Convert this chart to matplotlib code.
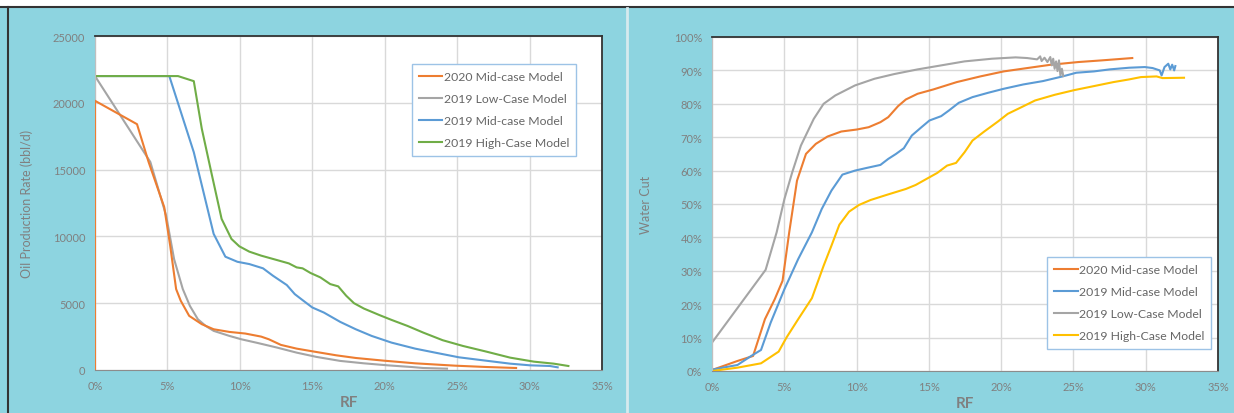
import numpy as np
import matplotlib
matplotlib.use("Agg")
import matplotlib.pyplot as plt
from matplotlib.lines import Line2D
from matplotlib.patches import Rectangle
from matplotlib.ticker import FuncFormatter

plt.rcParams['font.family'] = ['Lato', 'DejaVu Sans']

# ---- left panel: oil rate vs RF (RF in %) ----
rate_2020_mid_x = [0, 0, 2.9, 3.7, 4.78, 5.19, 5.6, 5.92, 6.5, 7.37, 8.19, 9.28, 10.37, 11.47, 12.0,
                   12.83, 13.92, 15.0, 16.65, 18.0, 19.93, 22.1, 24.84, 27.0, 29.07]
rate_2020_mid_y = [0, 20150, 18400, 15570, 12190, 9310, 6056, 5180, 4054, 3430, 3050, 2850, 2730, 2500,
                   2300, 1880, 1600, 1400, 1100, 900, 700, 500, 325, 225, 150]

rate_2019_low_x = [0, 3.82, 4.91, 5.46, 6.06, 6.55, 7.1, 7.64, 8.19, 9.28, 10.1, 11.2, 12.56, 13.92,
                   15.29, 16.93, 18.56, 20.2, 21.84, 22.66, 24.3]
rate_2019_low_y = [22000, 15570, 11560, 8300, 6060, 4800, 3800, 3300, 2930, 2550, 2300, 2030, 1680,
                   1300, 980, 680, 500, 350, 225, 150, 100]

rate_2019_mid_x = [0, 5.13, 6.82, 8.19, 9.0, 9.83, 10.65, 11.6, 12.28, 13.24, 13.79, 14.33, 15.0, 15.8,
                   16.93, 18.0, 19.1, 20.47, 22.1, 23.48, 25.12, 26.75, 28.66, 30.03, 31.4, 31.94]
rate_2019_mid_y = [22000, 22000, 16300, 10190, 8480, 8100, 7930, 7610, 7060, 6360, 5680, 5230, 4680,
                   4300, 3600, 3050, 2550, 2050, 1600, 1300, 950, 730, 475, 350, 300, 200]

rate_2019_high_x = [0, 5.73, 6.82, 7.37, 8.05, 8.74, 9.42, 9.96, 10.65, 11.47, 12.56, 13.38, 13.92,
                    14.33, 14.88, 15.56, 16.24, 16.79, 17.34, 17.88, 18.56, 19.66, 20.47, 21.57, 22.66,
                    24.0, 25.4, 27.0, 28.66, 30.3, 31.67, 32.68]
rate_2019_high_y = [22000, 22000, 21620, 18070, 14690, 11310, 9810, 9260, 8860, 8560, 8230, 7980, 7680,
                    7610, 7260, 6930, 6430, 6260, 5560, 5000, 4600, 4100, 3750, 3300, 2800, 2230, 1800,
                    1380, 925, 625, 475, 300]

# ---- right panel: water cut (%) vs RF (%) ----
wc_2020_mid_x = [0, 1.76, 2.84, 3.66, 4.34, 4.88, 5.34, 5.88, 6.5, 7.18, 7.99, 8.94, 10.02, 10.84,
                 11.65, 12.19, 12.87, 13.41, 14.22, 15.31, 16.93, 18.56, 20.18, 21.8, 23.44, 25.33,
                 26.96, 29.07]
wc_2020_mid_y = [0.3, 3.0, 4.5, 15.5, 21.5, 27, 41.5, 57, 65, 68, 70.2, 71.7, 72.3, 73, 74.5, 76, 79.3,
                 81.3, 83, 84.3, 86.5, 88.2, 89.7, 90.7, 91.7, 92.5, 93, 93.7]

wc_2019_mid_x = [0, 1.76, 2.71, 3.39, 4.06, 5.01, 5.96, 6.91, 7.59, 8.26, 9.02, 9.89, 10.7, 11.65,
                 12.19, 12.73, 13.27, 13.82, 14.49, 15.04, 15.85, 16.39, 17.07, 18.02, 19.1, 20.18,
                 21.54, 22.89, 24.25, 25.2, 26.42, 27.5, 28.85, 29.94, 30.48, 30.97, 31.1, 31.3, 31.56,
                 31.7, 31.83, 31.97, 32.05]
wc_2019_mid_y = [0.4, 1.8, 4.5, 6.3, 14.5, 24.5, 33.5, 41.5, 48.5, 54, 58.8, 60, 60.8, 61.7, 63.5, 65,
                 66.7, 70.5, 73, 75, 76.3, 78, 80.3, 82, 83.3, 84.5, 85.8, 86.8, 88.2, 89.3, 89.7, 90.3,
                 90.8, 91, 90.7, 90, 88.5, 91, 92, 90.3, 91.7, 90, 91.3]

wc_2019_low_x = [0, 3.71, 4.47, 5.01, 5.55, 6.15, 7.04, 7.72, 8.53, 9.89, 11.24, 12.6, 14.22, 15.85,
                 17.47, 19.37, 21.0, 21.8, 22.49, 22.7, 22.8, 23.0, 23.2, 23.4, 23.5, 23.6, 23.7, 23.8,
                 23.9, 24.0, 24.1, 24.2, 24.3]
wc_2019_low_y = [8.5, 30.3, 41.5, 51.5, 59.5, 67.5, 75.5, 80, 82.5, 85.5, 87.5, 88.9, 90.3, 91.5, 92.7,
                 93.5, 93.9, 93.7, 93.3, 94.2, 92.8, 93.8, 92.5, 94.0, 91.5, 93.5, 90.5, 92.7, 89.8,
                 93.0, 88.5, 90.5, 88.3]

wc_2019_high_x = [0, 1.76, 3.39, 4.61, 5.15, 5.96, 6.91, 7.72, 8.26, 8.81, 9.48, 10.16, 10.97, 12.06,
                  13.41, 14.09, 15.04, 15.58, 16.26, 16.88, 17.47, 18.02, 18.83, 19.78, 20.46, 21.27,
                  22.35, 23.71, 25.06, 26.42, 27.77, 28.85, 29.67, 30.75, 31.16, 32.65]
wc_2019_high_y = [0, 1, 2.3, 5.8, 10, 15.5, 21.8, 31.5, 37.5, 43.8, 47.7, 49.7, 51.2, 52.7, 54.5, 55.7,
                  58, 59.3, 61.5, 62.3, 65.5, 69, 71.7, 74.7, 77, 78.7, 81, 82.7, 84.1, 85.3, 86.5,
                  87.3, 88, 88.2, 87.7, 87.8]

ORANGE = '#ED7D31'
GRAY = '#A5A5A5'
BLUE = '#5B9BD5'
GREEN = '#70AD47'
YELLOW = '#FFC000'
BG = '#8DD4E0'
TXT = '#808080'

fig = plt.figure(figsize=(12.34, 4.14), dpi=100, facecolor=BG)

# frame decorations of the screenshot
fig.patches.append(Rectangle((0, 1 - 7 / 414), 1, 7 / 414, transform=fig.transFigure,
                             facecolor='white', edgecolor='none', zorder=0))
fig.add_artist(Line2D([0, 1], [1 - 8 / 414] * 2, transform=fig.transFigure, color='#333333', lw=1.5))
fig.add_artist(Line2D([7.5 / 1234] * 2, [0, 1 - 8 / 414], transform=fig.transFigure, color='#333333', lw=1.5))
fig.add_artist(Line2D([627 / 1234] * 2, [0, 1 - 9 / 414], transform=fig.transFigure, color='#d6eaee', lw=2))

ax1 = fig.add_axes([95 / 1234, 1 - 371 / 414, 507 / 1234, 334 / 414])
ax2 = fig.add_axes([712 / 1234, 1 - 372 / 414, 506 / 1234, 334 / 414])

pct = FuncFormatter(lambda v, p: f"{v:.0f}%")


def style(ax):
    ax.set_facecolor('white')
    ax.grid(True, color='#d9d9d9', lw=1)
    ax.set_axisbelow(True)
    ax.tick_params(length=0, labelsize=8, labelcolor=TXT, pad=7)
    for s in ['top', 'right']:
        ax.spines[s].set_color('#333333')
        ax.spines[s].set_linewidth(1.3)
    ax.spines['left'].set_color('#bfbfbf')
    ax.spines['bottom'].set_color('#8c8c8c')
    ax.set_xlim(0, 35)
    ax.set_xticks(np.arange(0, 36, 5))
    ax.xaxis.set_major_formatter(pct)
    ax.set_xlabel('RF', fontsize=11, fontweight='bold', color=TXT, labelpad=3)


def add_legend(ax, x, y):
    ax.legend(loc='upper left', bbox_to_anchor=(x, y), fontsize=8.8, frameon=True, fancybox=False,
              edgecolor='#9dc3e6', framealpha=1, labelcolor='#666666', handlelength=1.9,
              handletextpad=0.1, labelspacing=0.9, borderpad=0.6, borderaxespad=0)


style(ax1)
ax1.plot(rate_2020_mid_x, rate_2020_mid_y, color=ORANGE, lw=1.5, label='2020 Mid-case Model', zorder=3)
ax1.plot(rate_2019_low_x, rate_2019_low_y, color=GRAY, lw=1.5, label='2019 Low-Case Model')
ax1.plot(rate_2019_mid_x, rate_2019_mid_y, color=BLUE, lw=1.5, label='2019 Mid-case Model')
ax1.plot(rate_2019_high_x, rate_2019_high_y, color=GREEN, lw=1.5, label='2019 High-Case Model')
ax1.set_ylim(0, 25000)
ax1.set_yticks(np.arange(0, 25001, 5000))
ax1.set_ylabel('Oil Production Rate (bbl/d)', fontsize=9, color=TXT, labelpad=14)
add_legend(ax1, 0.625, 0.916)

style(ax2)
ax2.plot(wc_2020_mid_x, wc_2020_mid_y, color=ORANGE, lw=1.5, label='2020 Mid-case Model')
ax2.plot(wc_2019_mid_x, wc_2019_mid_y, color=BLUE, lw=1.5, label='2019 Mid-case Model')
ax2.plot(wc_2019_low_x, wc_2019_low_y, color=GRAY, lw=1.5, label='2019 Low-Case Model')
ax2.plot(wc_2019_high_x, wc_2019_high_y, color=YELLOW, lw=1.5, label='2019 High-Case Model')
ax2.set_ylim(0, 100)
ax2.set_yticks(np.arange(0, 101, 10))
ax2.yaxis.set_major_formatter(pct)
ax2.set_ylabel('Water Cut', fontsize=9, color=TXT, labelpad=16)
add_legend(ax2, 0.662, 0.341)

fig.savefig('out.png', dpi=100, facecolor=BG)
